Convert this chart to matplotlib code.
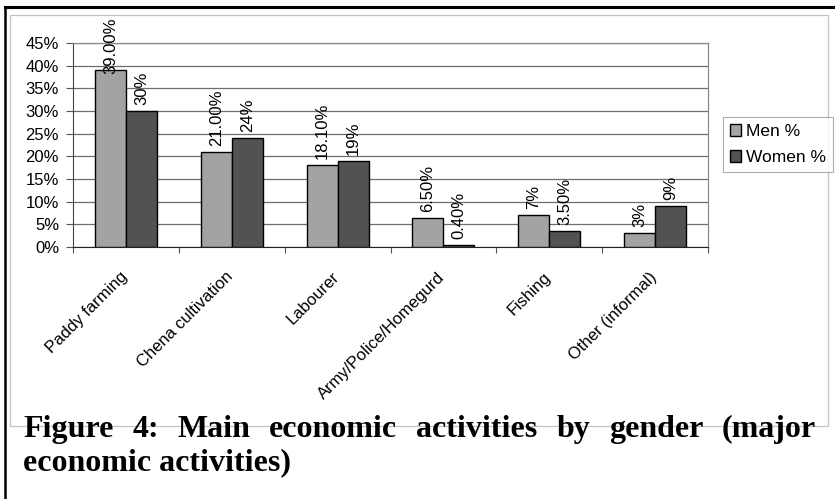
import matplotlib
matplotlib.use("Agg")
import matplotlib.pyplot as plt
import matplotlib.transforms as mtransforms
from matplotlib.patches import Rectangle
from matplotlib.lines import Line2D
import numpy as np

# Data
categories = ["Paddy farming", "Chena cultivation", "Labourer",
              "Army/Police/Homegurd", "Fishing", "Other (informal)"]
men_values = [39.0, 21.0, 18.1, 6.5, 7.0, 3.0]
women_values = [30.0, 24.0, 19.0, 0.4, 3.5, 9.0]
men_labels = ["39.00%", "21.00%", "18.10%", "6.50%", "7%", "3%"]
women_labels = ["30%", "24%", "19%", "0.40%", "3.50%", "9%"]
series_names = ["Men %", "Women %"]
y_ticks = [0, 5, 10, 15, 20, 25, 30, 35, 40, 45]
caption_line1 = "Figure 4: Main economic activities by gender (major"
caption_line2 = "economic activities)"

W, H = 835, 499
fig = plt.figure(figsize=(W / 100, H / 100), dpi=100)
fig.patch.set_facecolor("white")

SANS = ["Liberation Sans", "DejaVu Sans"]
SERIF = ["Liberation Serif", "DejaVu Serif"]

# Outer frame of the figure block and the chart-object border
fig.add_artist(Line2D([5 / W, 1.0], [1 - 7 / H, 1 - 7 / H], color="black", lw=2.2,
                      transform=fig.transFigure))
fig.add_artist(Line2D([5 / W, 5 / W], [0.0, 1 - 7 / H], color="black", lw=1.8,
                      transform=fig.transFigure))
fig.add_artist(Rectangle((10 / W, 1 - 426 / H), (828 - 10) / W, (426 - 15) / H,
                         transform=fig.transFigure, fill=False,
                         edgecolor="#c4c4c4", lw=0.9))

# Plot area
left, right, top, bottom = 73, 708, 43, 247
ax = fig.add_axes([left / W, 1 - bottom / H, (right - left) / W, (bottom - top) / H])
ax.set_facecolor("white")

x = np.arange(len(categories))
bw = 0.293
men_color = "#a3a3a3"
women_color = "#525252"
men_bars = ax.bar(x - bw / 2, men_values, bw, color=men_color, edgecolor="black",
                  linewidth=1.0, label=series_names[0], zorder=3)
women_bars = ax.bar(x + bw / 2, women_values, bw, color=women_color, edgecolor="black",
                    linewidth=1.0, label=series_names[1], zorder=3)

ax.set_xlim(-0.5, len(categories) - 0.5)
ax.set_ylim(0, 45)
ax.set_yticks(y_ticks)
ax.set_yticklabels([f"{v}%" for v in y_ticks], fontsize=12, family=SANS)
ax.yaxis.grid(True, color="#6e6e6e", lw=0.9, zorder=0)
ax.tick_params(axis="y", length=5, width=0.8, color="#555555", pad=5)

# Category labels at group centres, tick marks at group boundaries
ax.set_xticks(x)
ax.set_xticklabels(categories, fontsize=12, family=SANS, rotation=45,
                   ha="right", va="top", rotation_mode="anchor")
ax.tick_params(axis="x", which="major", length=0, pad=16)
ax.set_xticks(np.arange(-0.5, len(categories)), minor=True)
ax.tick_params(axis="x", which="minor", length=4, width=0.8, color="#555555")
shift = mtransforms.ScaledTranslation(-6 / 100, 0, fig.dpi_scale_trans)
for lab in ax.get_xticklabels():
    lab.set_transform(lab.get_transform() + shift)

for side in ("top", "right"):
    ax.spines[side].set_color("#8a8a8a")
    ax.spines[side].set_linewidth(0.9)
ax.spines["left"].set_color("#444444")
ax.spines["bottom"].set_color("#222222")

# Value labels above the bars
value_texts = []
for bars, labels in ((men_bars, men_labels), (women_bars, women_labels)):
    for bar, lab in zip(bars, labels):
        t = ax.annotate(lab, (bar.get_x() + bar.get_width() / 2, bar.get_height()),
                        xytext=(0, 4.3), textcoords="offset points", rotation=90,
                        ha="center", va="bottom", fontsize=12, family=SANS,
                        annotation_clip=False, zorder=4)
        value_texts.append(t)

# Legend
leg = fig.legend(handles=[men_bars, women_bars], labels=series_names,
                 loc="upper left", bbox_to_anchor=(723 / W, 1 - 117 / H),
                 bbox_transform=fig.transFigure, prop={"family": SANS, "size": 12.5},
                 frameon=True, fancybox=False, edgecolor="#9a9a9a",
                 handlelength=0.65, handleheight=0.65, handletextpad=0.3,
                 borderpad=0.4, labelspacing=0.65, borderaxespad=0)
leg.get_frame().set_linewidth(0.8)

# Keep value labels inside the chart area
fig.canvas.draw()
renderer = fig.canvas.get_renderer()
limit_px = H - 18
for t in value_texts:
    bb = t.get_window_extent(renderer)
    if bb.y1 > limit_px:
        dy_pt = (bb.y1 - limit_px) * 72 / fig.dpi
        ox, oy = t.xyann
        t.xyann = (ox, oy - dy_pt)

# Justified caption
cap_font = dict(family=SERIF, weight="bold", size=23, color="black")
x_left, x_right = 23, 816
base1, base2 = 437, 470
words = caption_line1.split()
word_texts = [fig.text(0, 1 - base1 / H, w, ha="left", va="baseline", **cap_font)
              for w in words]
fig.canvas.draw()
widths = [wt.get_window_extent(renderer).width for wt in word_texts]
gap = (x_right - x_left - sum(widths)) / (len(words) - 1)
cur = x_left
for wt, wd in zip(word_texts, widths):
    wt.set_x(cur / W)
    cur += wd + gap
fig.text(x_left / W, 1 - base2 / H, caption_line2, ha="left", va="baseline", **cap_font)

fig.savefig("out.png", dpi=100, facecolor="white")
